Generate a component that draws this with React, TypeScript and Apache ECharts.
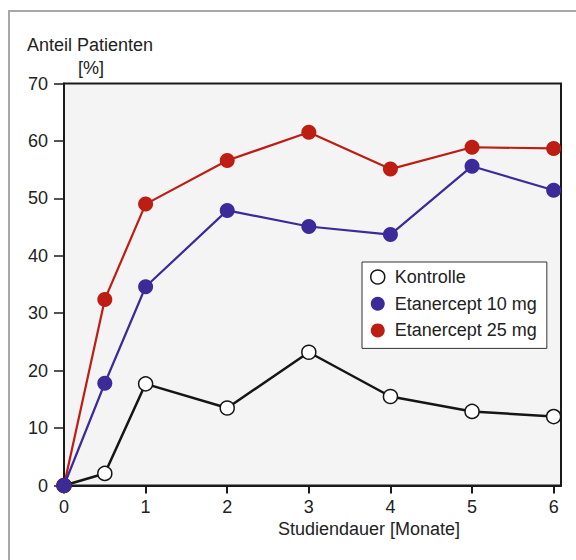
import React, { useEffect, useRef } from "react";
import * as echarts from "echarts";

const months = [0, 0.5, 1, 2, 3, 4, 5, 6];
const kontrolle = [0, 2.1, 17.7, 13.5, 23.2, 15.5, 12.9, 12.0];
const etanercept10 = [0, 17.8, 34.6, 47.9, 45.1, 43.7, 55.6, 51.4];
const etanercept25 = [0, 32.4, 49.0, 56.6, 61.5, 55.1, 58.9, 58.7];
const xTicks = [0, 1, 2, 3, 4, 5, 6];
const seriesNames = ["Kontrolle", "Etanercept 10 mg", "Etanercept 25 mg"];
const yName = "Anteil Patienten";
const yUnit = "[%]";
const xName = "Studiendauer [Monate]";

const FONT = "'Liberation Sans', Arial, Helvetica, sans-serif";
const RED = "#bd1d13";
const BLUE = "#3b2a98";
const BLACK = "#151515";

const pairs = (ys: number[]) => months.map((m, i) => [m, ys[i]]);

export default function App() {
  const ref = useRef<HTMLDivElement>(null);
  useEffect(() => {
    if (!ref.current) return;
    const chart = echarts.init(ref.current, null, { renderer: "svg" });
    chart.setOption({
      animation: false,
      backgroundColor: "#ffffff",
      textStyle: { fontFamily: FONT },
      graphic: [
        {
          type: "rect",
          shape: { x: 9, y: 11, width: 800, height: 800 },
          style: { fill: "none", stroke: "#a8a8a8", lineWidth: 2 },
          silent: true,
        },
        {
          type: "text",
          x: 27,
          y: 45,
          style: { text: yName, fontSize: 18, fontFamily: FONT, fill: "#222", verticalAlign: "middle" },
        },
        {
          type: "text",
          x: 78,
          y: 67.5,
          style: { text: yUnit, fontSize: 18, fontFamily: FONT, fill: "#222", verticalAlign: "middle" },
        },
      ],
      grid: {
        left: 64,
        top: 83.5,
        right: 15,
        bottom: 74.5,
        show: true,
        backgroundColor: "#f4f4f4",
        borderColor: "#1a1a1a",
        borderWidth: 2,
      },
      legend: {
        orient: "vertical",
        left: 362,
        top: 262,
        padding: [6, 10, 9, 8],
        itemGap: 8.7,
        itemWidth: 14,
        itemHeight: 14,
        backgroundColor: "#ffffff",
        borderColor: "#333",
        borderWidth: 1,
        textStyle: { fontSize: 18, fontFamily: FONT, color: "#222", lineHeight: 18, padding: [0, 0, 0, 5] },
        data: [
          { name: seriesNames[0], icon: "circle", itemStyle: { color: "#fff", borderColor: BLACK, borderWidth: 1.5 } },
          { name: seriesNames[1], icon: "circle", itemStyle: { color: BLUE, borderWidth: 0 } },
          { name: seriesNames[2], icon: "circle", itemStyle: { color: RED, borderWidth: 0 } },
        ],
      },
      xAxis: {
        type: "value",
        min: 0,
        max: 6.09,
        interval: 1,
        name: xName,
        nameLocation: "middle",
        nameGap: 34,
        nameTextStyle: { fontSize: 18, color: "#222", fontFamily: FONT, padding: [0, 0, 0, 113] },
        axisLine: { show: true, onZero: false, lineStyle: { color: "#1a1a1a", width: 2 } },
        axisTick: { show: true, length: 8, lineStyle: { color: "#1a1a1a", width: 2 }, customValues: xTicks },
        axisLabel: { fontSize: 18, color: "#222", margin: 12, customValues: xTicks, fontFamily: FONT },
        splitLine: { show: false },
      },
      yAxis: {
        type: "value",
        min: 0,
        max: 70,
        interval: 10,
        axisLine: { show: true, onZero: false, lineStyle: { color: "#1a1a1a", width: 2 } },
        axisTick: { show: true, length: 10, lineStyle: { color: "#1a1a1a", width: 1.5 } },
        axisLabel: { fontSize: 18, color: "#222", margin: 16, fontFamily: FONT },
        splitLine: { show: false },
      },
      series: [
        {
          name: seriesNames[0],
          type: "line",
          data: pairs(kontrolle),
          symbol: "circle",
          symbolSize: 14,
          clip: false,
          z: 2,
          lineStyle: { color: BLACK, width: 2.5 },
          itemStyle: { color: "#ffffff", borderColor: BLACK, borderWidth: 1.5 },
        },
        {
          name: seriesNames[1],
          type: "line",
          data: pairs(etanercept10),
          symbol: "circle",
          symbolSize: 15,
          clip: false,
          z: 4,
          lineStyle: { color: BLUE, width: 2.2 },
          itemStyle: { color: BLUE, borderWidth: 0 },
        },
        {
          name: seriesNames[2],
          type: "line",
          data: pairs(etanercept25),
          symbol: "circle",
          symbolSize: 15,
          clip: false,
          z: 3,
          lineStyle: { color: RED, width: 2.2 },
          itemStyle: { color: RED, borderWidth: 0 },
        },
      ],
    });
    return () => chart.dispose();
  }, []);
  return <div ref={ref} style={{ position: "absolute", left: 0, top: 0, width: 576, height: 560 }} />;
}
